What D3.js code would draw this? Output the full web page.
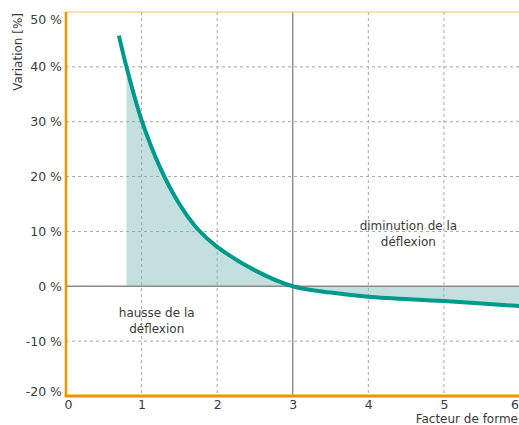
<!DOCTYPE html>
<html>
<head>
<meta charset="utf-8">
<script src="https://cdn.jsdelivr.net/npm/d3@7"></script>
<style>
  body { margin: 0; background: #fff; }
  text { font-family: "DejaVu Sans", sans-serif; fill: #3a3a3a; }
</style>
</head>
<body>
<div id="chart"></div>
<script>
// curve: shape factor vs. variation [%]
const factors = [0.7, 0.8, 1.0, 1.25, 1.5, 1.75, 2.0, 2.5, 3.0, 3.5, 4.0, 5.0, 6.0];
const variation = [45.7, 40, 30.3, 21.5, 15, 10.3, 7.2, 2.9, 0, -1.15, -1.9, -2.7, -3.6];
const xTicks = [0, 1, 2, 3, 4, 5, 6];
const yTicks = [-20, -10, 0, 10, 20, 30, 40, 50];
const fillStart = 0.8;

const W = 519, H = 425;
const margin = { top: 12, right: 0, bottom: 29, left: 66 };
const width = W - margin.left - margin.right;
const height = H - margin.top - margin.bottom;

const svg = d3.select('#chart').append('svg')
  .attr('width', W)
  .attr('height', H);

const g = svg.append('g').attr('transform', 'translate(' + margin.left + ',' + margin.top + ')');

const x = d3.scaleLinear().domain([0, 6]).range([0, width + 0.5]);
const y = d3.scaleLinear().domain([-20, 50]).range([height, 0]);

const pts = factors.map(function(d, i) { return { x: d, y: variation[i] }; });

// fill between curve and zero, from fillStart on
const fillPts = pts.filter(function(d) { return d.x >= fillStart; });
g.append('path')
  .datum(fillPts)
  .attr('fill', '#c3e0df')
  .attr('d', d3.area()
    .x(function(d) { return x(d.x); })
    .y0(y(0))
    .y1(function(d) { return y(d.y); })
    .curve(d3.curveCatmullRom));

// dashed grid
g.append('g')
  .selectAll('line')
  .data(yTicks.filter(function(d) { return d !== 0 && d !== 50 && d !== -20; }))
  .enter().append('line')
    .attr('x1', 0).attr('x2', width)
    .attr('y1', function(d) { return y(d); })
    .attr('y2', function(d) { return y(d); })
    .attr('stroke', '#a8a8a8')
    .attr('stroke-dasharray', '3,3');

g.append('g')
  .selectAll('line')
  .data(xTicks.filter(function(d) { return d !== 0 && d !== 3 && d !== 6; }))
  .enter().append('line')
    .attr('x1', function(d) { return x(d); })
    .attr('x2', function(d) { return x(d); })
    .attr('y1', 0).attr('y2', height)
    .attr('stroke', '#a8a8a8')
    .attr('stroke-dasharray', '3,3');

// zero line and x = 3
g.append('line')
  .attr('x1', 0).attr('x2', width)
  .attr('y1', y(0)).attr('y2', y(0))
  .attr('stroke', '#8a8a8a').attr('stroke-width', 1.5);
g.append('line')
  .attr('x1', x(3)).attr('x2', x(3))
  .attr('y1', 0).attr('y2', height)
  .attr('stroke', '#7a7a7a').attr('stroke-width', 1.2);

// the curve
g.append('path')
  .datum(pts)
  .attr('fill', 'none')
  .attr('stroke', '#009a8c')
  .attr('stroke-width', 4)
  .attr('d', d3.line()
    .x(function(d) { return x(d.x); })
    .y(function(d) { return y(d.y); })
    .curve(d3.curveCatmullRom));

// frame
g.append('line')
  .attr('x1', 0).attr('x2', width)
  .attr('y1', 0).attr('y2', 0)
  .attr('stroke', '#fbbf5e').attr('stroke-width', 1);
g.append('line')
  .attr('x1', 0).attr('x2', 0)
  .attr('y1', 0).attr('y2', height)
  .attr('stroke', '#f39200').attr('stroke-width', 2.5);
g.append('line')
  .attr('x1', -1.25).attr('x2', width)
  .attr('y1', height).attr('y2', height)
  .attr('stroke', '#f39200').attr('stroke-width', 3);

// axes
const yAxis = g.append('g')
  .call(d3.axisLeft(y).tickValues(yTicks).tickSize(0).tickPadding(4)
    .tickFormat(function(d) { return d + ' %'; }));
yAxis.select('.domain').remove();
yAxis.selectAll('.tick text')
  .attr('font-size', 12.5)
  .attr('dy', function(d) { return d === 50 ? '0.9em' : d === -20 ? '-0.05em' : '0.32em'; });

const xAxis = g.append('g')
  .attr('transform', 'translate(0,' + height + ')')
  .call(d3.axisBottom(x).tickValues(xTicks).tickSize(0).tickPadding(4)
    .tickFormat(d3.format('d')));
xAxis.select('.domain').remove();
xAxis.selectAll('.tick text')
  .attr('font-size', 12.5)
  .attr('x', function(d) { return d === 0 ? 2 : d === 6 ? -5 : 0; });

svg.append('text')
  .attr('x', W - 1)
  .attr('y', H - 2)
  .attr('text-anchor', 'end')
  .attr('font-size', 12)
  .text('Facteur de forme');

svg.append('text')
  .attr('transform', 'translate(22,13) rotate(-90)')
  .attr('text-anchor', 'end')
  .attr('font-size', 12)
  .text('Variation [%]');

// annotations
function note(cx, cy, lines) {
  const t = g.append('text')
    .attr('text-anchor', 'middle')
    .attr('font-size', 12);
  lines.forEach(function(l, i) {
    t.append('tspan').attr('x', cx).attr('y', cy + i * 16).text(l);
  });
}
note(x(4.53), 218, ['diminution de la', 'déflexion']);
note(x(1.2), 305, ['hausse de la', 'déflexion']);
</script>
</body>
</html>
